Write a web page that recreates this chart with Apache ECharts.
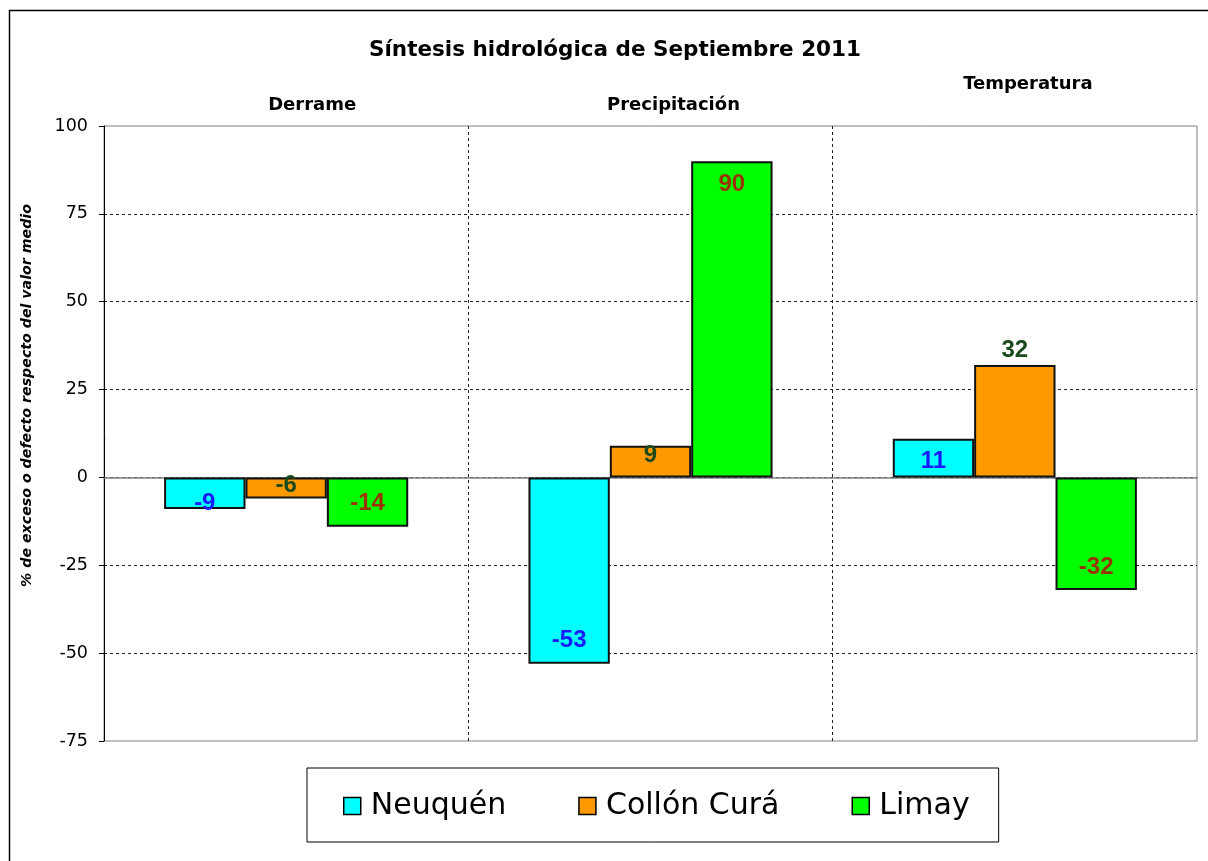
<!DOCTYPE html>
<html>
<head>
<meta charset="utf-8">
<script src="https://cdn.jsdelivr.net/npm/echarts@6/dist/echarts.min.js"></script>
<style>
html,body{margin:0;padding:0;background:#fff;}
#chart{width:1208px;height:861px;}
</style>
</head>
<body>
<div id="chart"></div>
<script>
const titleText = 'Síntesis hidrológica de Septiembre 2011';
const categories = ['Derrame', 'Precipitación', 'Temperatura'];
const seriesNames = ['Neuquén', 'Collón Curá', 'Limay'];
const neuquen = [-9, -53, 11];
const collonCura = [-6, 9, 32];
const limay = [-14, 90, -32];
const yTicks = [-75, -50, -25, 0, 25, 50, 75, 100];
const yAxisName = '% de exceso o defecto respecto del valor medio';

const FONT = '"Liberation Sans", Arial, sans-serif';
const WIDE = '"DejaVu Sans", "Liberation Sans", sans-serif';
const barColors = ['#00FFFF', '#FF9900', '#00FF00'];
const labelColors = ['#1a1aff', '#1c4a1c', '#993300'];

// label placement tweaks (style only)
const labelTweak = {
  '0|0': {position: 'insideBottom', distance: -6},
  '1|0': {position: 'insideBottom', distance: 1.5},
  '1|1': {position: 'insideTop', distance: -2},
  '1|2': {position: 'top', distance: 3}
};

function buildData(values, si) {
  return values.map((v, ci) => {
    const t = labelTweak[si + '|' + ci];
    const pos = t ? t : {position: v >= 0 ? 'insideTop' : 'insideBottom', distance: 11};
    return {
      value: v,
      label: {
        show: true,
        position: pos.position,
        distance: pos.distance,
        color: labelColors[si],
        fontFamily: FONT,
        fontWeight: 'bold',
        fontSize: 24
      }
    };
  });
}

const seriesValues = [neuquen, collonCura, limay];
const series = seriesValues.map((vals, si) => ({
  name: seriesNames[si],
  type: 'bar',
  xAxisIndex: 0,
  barGap: '0%',
  barCategoryGap: '33%',
  data: buildData(vals, si),
  itemStyle: {color: barColors[si], borderColor: '#111', borderWidth: 2},
  label: {
    show: true,
    color: labelColors[si],
    fontFamily: FONT,
    fontWeight: 'bold',
    fontSize: 24
  },
  emphasis: {disabled: true}
}));

const catStyle = {fontFamily: WIDE, fontWeight: 'bold', fontSize: 18, color: '#000'};

const chart = echarts.init(document.getElementById('chart'), null, {renderer: 'canvas'});
chart.setOption({
  animation: false,
  backgroundColor: '#fff',
  title: {
    text: titleText,
    left: 610,
    textAlign: 'center',
    top: 34,
    textStyle: {fontFamily: WIDE, fontWeight: 'bold', fontSize: 21.5, color: '#000'}
  },
  graphic: [{
    type: 'rect',
    shape: {x: 9.5, y: 10.5, width: 1300, height: 900},
    style: {fill: null, stroke: '#000', lineWidth: 1.5},
    silent: true,
    z: 100
  }],
  legend: {
    data: seriesNames,
    left: 307,
    top: 768,
    orient: 'horizontal',
    backgroundColor: '#fff',
    borderColor: '#000',
    borderWidth: 1,
    padding: [23, 29, 21, 36],
    itemGap: 72,
    itemWidth: 17,
    itemHeight: 17,
    icon: 'rect',
    itemStyle: {borderColor: '#000', borderWidth: 1.5},
    textStyle: {fontFamily: WIDE, fontSize: 30, color: '#000', padding: [0, 0, 0, 5]}
  },
  grid: {
    left: 104, right: 11, top: 126, bottom: 120,
    show: true, borderColor: '#808080', borderWidth: 1, backgroundColor: '#fff',
    containLabel: false
  },
  xAxis: [{
    type: 'category',
    data: categories,
    position: 'bottom',
    axisLine: {show: true, onZero: true, lineStyle: {color: '#808080', width: 1.5}},
    axisTick: {show: false},
    axisLabel: {show: false},
    splitLine: {show: true, showMinLine: false, showMaxLine: false,
      lineStyle: {color: '#222', type: [3, 3], width: 1}}
  }, {
    type: 'category',
    data: categories,
    position: 'top',
    axisLine: {show: false, onZero: false},
    axisTick: {show: false},
    splitLine: {show: false},
    axisLabel: {
      show: true,
      margin: 12,
      interval: 0,
      formatter: (v, i) => '{c' + i + '|' + v + '}',
      rich: {
        c0: Object.assign({padding: [0, 0, 0, 52]}, catStyle),
        c1: Object.assign({padding: [0, 0, 0, 46]}, catStyle),
        c2: Object.assign({padding: [0, 0, 21, 26]}, catStyle)
      }
    }
  }],
  yAxis: {
    type: 'value',
    min: yTicks[0],
    max: yTicks[yTicks.length - 1],
    interval: 25,
    name: yAxisName,
    nameLocation: 'middle',
    nameRotate: 90,
    nameGap: 70,
    nameTextStyle: {fontFamily: WIDE, fontWeight: 'bold', fontStyle: 'italic', fontSize: 14.2, color: '#000', padding: [0, 0, 0, 76]},
    axisLine: {show: true, onZero: false, lineStyle: {color: '#000', width: 1}},
    axisTick: {show: true, length: 5, lineStyle: {color: '#000'}},
    axisLabel: {fontFamily: WIDE, fontSize: 17.5, color: '#000', margin: 16},
    splitLine: {show: true, showMinLine: false, showMaxLine: false,
      lineStyle: {color: '#222', type: [3, 3], width: 1}}
  },
  series: series
});
</script>
</body>
</html>
